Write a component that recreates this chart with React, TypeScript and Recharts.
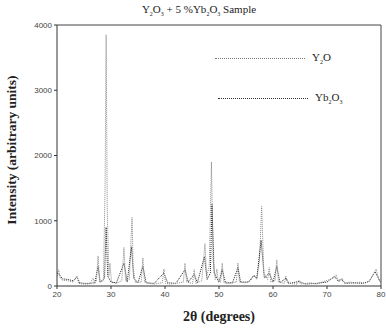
import React from "react";
import { LineChart, Line, XAxis, YAxis, ReferenceLine } from "recharts";

// 2θ positions and intensities
const y2o3Theta = [
  20, 20.3, 20.6, 21, 22, 23, 23.7, 24, 25, 26, 26.7, 27, 27.3, 27.6, 27.9, 28.6, 28.9, 29.1, 29.3, 29.6,
  29.8, 30.1, 31, 32, 32.4, 32.7, 33.4, 33.7, 33.9, 34.1, 34.5, 35.6, 35.9, 36.2, 37, 38, 39.5, 39.8, 40.1,
  41, 42, 43.4, 43.7, 44, 45.1, 45.4, 45.7, 46.8, 47.4, 47.7, 48.2, 48.6, 48.9, 49.3, 49.6, 49.9, 50.3,
  50.6, 50.9, 52, 53.2, 53.5, 53.8, 55, 56, 56.5, 57, 57.5, 57.9, 58.3, 59, 59.3, 59.6, 60.4, 60.7, 61,
  62.1, 62.4, 62.7, 64.5, 64.8, 65.1, 67, 68, 70.2, 71.2, 71.7, 72.2, 72.8, 73.2, 74.3, 75, 76.1, 77, 78,
  79.1, 79.6, 80,
];
const y2o3Counts = [
  150, 250, 120, 90, 80, 60, 150, 40, 30, 30, 120, 40, 80, 460, 60, 80, 1500, 3850, 1200, 150,
  350, 60, 40, 80, 590, 80, 100, 700, 1050, 300, 50, 60, 430, 60, 40, 30, 50, 260, 40,
  30, 40, 60, 350, 60, 40, 250, 40, 80, 650, 150, 300, 1900, 400, 100, 260, 60, 60,
  350, 50, 40, 60, 350, 60, 50, 100, 170, 100, 400, 1220, 200, 100, 280, 60, 80, 400, 60,
  40, 150, 40, 30, 90, 30, 50, 30, 90, 120, 170, 60, 120, 40, 60, 40, 60, 40, 90,
  260, 100, 40,
];

const yb2o3Theta = [
  20, 20.4, 21, 22, 23, 23.7, 24.2, 25, 26, 27, 27.6, 28, 28.8, 29.1, 29.4, 30, 31, 32.4, 33, 33.8,
  34.2, 35, 35.9, 36.5, 38, 39.8, 40.5, 42, 43.7, 44.3, 45.4, 46, 47.3, 47.8, 48.4, 48.7, 49.1, 50,
  50.6, 51.2, 52.5, 53.5, 54, 55.5, 56.4, 57, 57.8, 58.4, 59.3, 60, 60.7, 61.3, 62.4, 63, 64.8, 66, 68,
  70, 71.4, 72, 72.6, 73.5, 75, 76.5, 77.8, 78.9, 79.5, 80,
];
const yb2o3Counts = [
  200, 180, 110, 100, 80, 140, 50, 40, 40, 50, 300, 60, 120, 900, 150, 60, 50, 350, 60, 600,
  120, 50, 300, 50, 40, 200, 50, 40, 250, 60, 180, 50, 450, 100, 200, 1250, 200, 60,
  250, 50, 50, 280, 60, 60, 160, 120, 700, 120, 200, 60, 300, 50, 120, 40, 70, 30, 40,
  60, 150, 80, 100, 40, 50, 40, 70, 220, 120, 50,
];

const xTicks = [20, 30, 40, 50, 60, 70, 80];
const yTicks = [0, 1000, 2000, 3000, 4000];

const y2o3Data = y2o3Theta.map((t, i) => ({ t, v: y2o3Counts[i] }));
const yb2o3Data = yb2o3Theta.map((t, i) => ({ t, v: yb2o3Counts[i] }));

const serif = "'Liberation Serif', 'DejaVu Serif', serif";
const sub = { fontSize: 6 };

export default function App() {
  return (
    <div style={{ position: "absolute", left: 0, top: 0, width: 386, height: 329, background: "#fff" }}>
      <div
        style={{
          position: "absolute",
          top: 3,
          left: 0,
          width: 386,
          textAlign: "center",
          paddingLeft: 6,
          fontFamily: serif,
          fontSize: 11,
          color: "#222",
        }}
      >
        Y<sub style={sub}>2</sub>O<sub style={sub}>3</sub> + 5 %Yb<sub style={sub}>2</sub>O<sub style={sub}>3</sub> Sample
      </div>
      <LineChart width={386} height={329} margin={{ top: 25, right: 5, bottom: 0, left: 0 }}>
        <XAxis
          dataKey="t"
          type="number"
          domain={[20, 80]}
          ticks={xTicks}
          allowDataOverflow
          stroke="#333"
          tickSize={3}
          height={43}
          tick={{ fontSize: 8, fill: "#444", fontFamily: "'Liberation Sans', sans-serif" }}
        />
        <YAxis
          type="number"
          domain={[0, 4000]}
          ticks={yTicks}
          allowDataOverflow
          stroke="#333"
          tickSize={3}
          width={57}
          tick={{ fontSize: 8, fill: "#444", fontFamily: "'Liberation Sans', sans-serif" }}
        />
        <ReferenceLine y={4000} stroke="#444" />
        <ReferenceLine x={80} stroke="#444" />
        <Line
          data={yb2o3Data}
          dataKey="v"
          name="Yb2O3"
          stroke="#222"
          strokeWidth={1}
          strokeDasharray="1 1"
          dot={false}
          type="linear"
          isAnimationActive={false}
        />
        <Line
          data={y2o3Data}
          dataKey="v"
          name="Y2O3"
          stroke="#8a8a8a"
          strokeWidth={1}
          strokeDasharray="1 1"
          dot={false}
          type="linear"
          isAnimationActive={false}
        />
      </LineChart>
      <div style={{ position: "absolute", left: 215, top: 51, fontFamily: serif, fontSize: 11, color: "#222" }}>
        <div style={{ display: "flex", alignItems: "center", height: 14 }}>
          <div style={{ width: 90, borderTop: "1px dotted #777", marginRight: 7 }} />
          <span>
            Y<sub style={sub}>2</sub>O
          </span>
        </div>
        <div style={{ display: "flex", alignItems: "center", height: 14, marginTop: 26, marginLeft: 3 }}>
          <div style={{ width: 90, borderTop: "1px dotted #333", marginRight: 7 }} />
          <span>
            Yb<sub style={sub}>2</sub>O<sub style={sub}>3</sub>
          </span>
        </div>
      </div>
      <div
        style={{
          position: "absolute",
          left: 12,
          top: 150,
          transform: "translate(-50%, -50%) rotate(-90deg)",
          whiteSpace: "nowrap",
          fontFamily: serif,
          fontWeight: "bold",
          fontSize: 13.5,
          color: "#222",
        }}
      >
        Intensity (arbitrary units)
      </div>
      <div
        style={{
          position: "absolute",
          top: 309,
          left: 159,
          width: 120,
          textAlign: "center",
          fontFamily: serif,
          fontWeight: "bold",
          fontSize: 14,
          color: "#222",
        }}
      >
        2θ (degrees)
      </div>
    </div>
  );
}
